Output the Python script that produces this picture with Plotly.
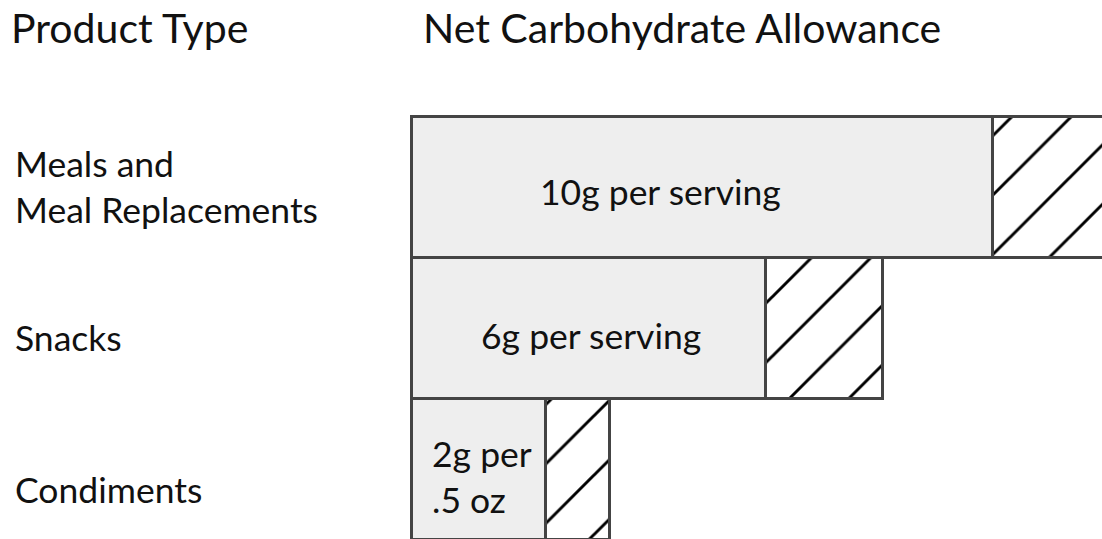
import plotly.graph_objects as go

categories = ["Meals and<br>Meal Replacements", "Snacks", "Condiments"]
allowance = [10, 6.1, 2.3]
extra = [2.0, 2.0, 1.1]
bar_labels = ["10g per serving", "6g per serving", "2g per<br>.5 oz"]
headers = ["Product Type", "Net Carbohydrate Allowance"]

W, H = 1102, 539
ypos = list(range(len(categories)))
FONT = "Lato, Open Sans, sans-serif"
INK = "#111111"


def px(x):
    return x / W


def py(y):
    return 1 - y / H


fig = go.Figure()
fig.add_trace(go.Bar(
    y=ypos, x=allowance, orientation="h", width=1,
    marker=dict(color="#eeeeee", line=dict(color="#444444", width=3)),
    hoverinfo="skip", showlegend=False,
))
fig.add_trace(go.Bar(
    y=ypos, x=extra, orientation="h", width=1,
    marker=dict(color="white", line=dict(color="#444444", width=3),
                pattern=dict(shape="/", size=42, solidity=0.07, fgopacity=1,
                             fgcolor="#000000", bgcolor="white")),
    hoverinfo="skip", showlegend=False,
))

# headers
fig.add_annotation(x=px(9), y=py(1), xref="paper", yref="paper", text=headers[0],
                   showarrow=False, xanchor="left", yanchor="top",
                   font=dict(family=FONT, size=41, color=INK))
fig.add_annotation(x=px(421), y=py(1), xref="paper", yref="paper", text=headers[1],
                   showarrow=False, xanchor="left", yanchor="top",
                   font=dict(family=FONT, size=41, color=INK))

# category labels
cat_y = [187, 337, 489]
for c, yy in zip(categories, cat_y):
    fig.add_annotation(x=px(13), y=py(yy), xref="paper", yref="paper", text=c,
                       showarrow=False, xanchor="left", yanchor="middle", align="left",
                       font=dict(family=FONT, size=35.5, color=INK))

# bar labels
lab_x = [660, 591, 430]
lab_y = [191, 335, 476]
lab_anchor = ["center", "center", "left"]
for t, xx, yy, an in zip(bar_labels, lab_x, lab_y, lab_anchor):
    fig.add_annotation(x=px(xx), y=py(yy), xref="paper", yref="paper", text=t,
                       showarrow=False, xanchor=an, yanchor="middle", align="left",
                       font=dict(family=FONT, size=35.5, color=INK))

x0 = 412.0      # pixel of zero
xs = 58.1       # pixels per unit
yc = 187.8      # pixel centre of first bar
ys = 141.0      # pixels per category
fig.update_layout(
    width=W, height=H,
    margin=dict(l=0, r=0, t=0, b=0),
    barmode="stack", bargap=0,
    paper_bgcolor="white", plot_bgcolor="white",
    xaxis=dict(range=[-x0 / xs, (W - x0) / xs], visible=False, fixedrange=True),
    yaxis=dict(range=[(H - yc) / ys, -yc / ys], visible=False, fixedrange=True),
)

fig.write_html("out.html", config={"displayModeBar": False},
               post_script="document.body.style.margin='0';")
